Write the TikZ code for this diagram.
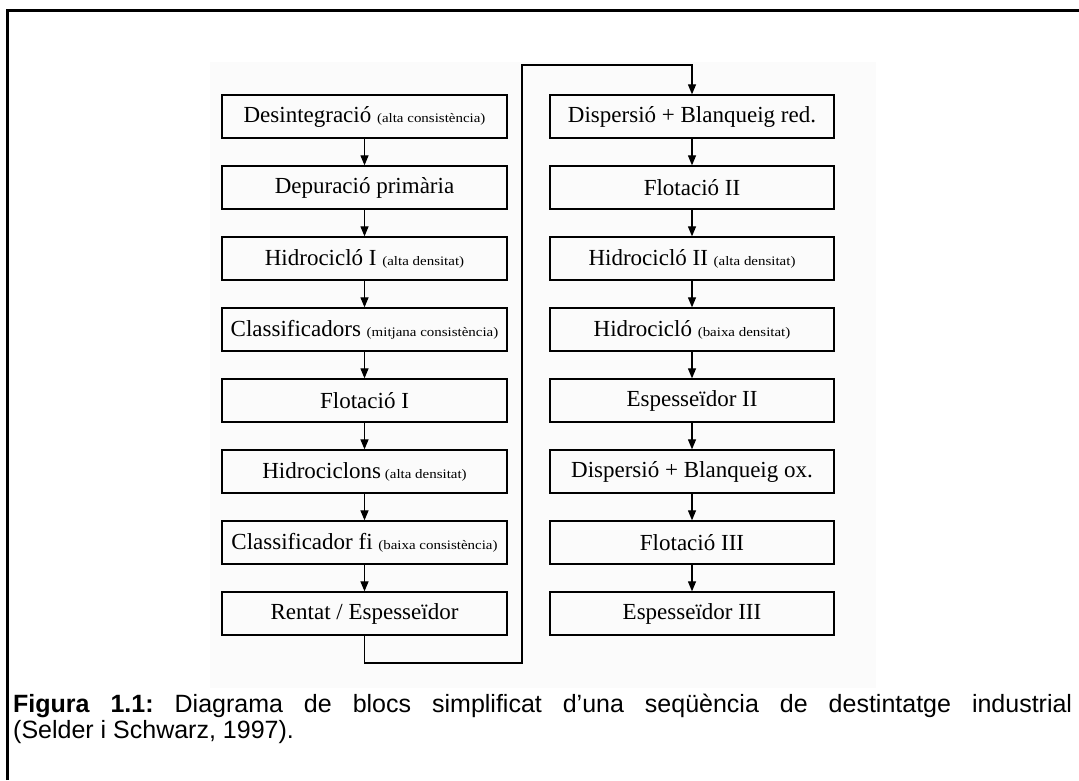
\documentclass[tikz,border=0pt]{standalone}
\usepackage{fontspec}
\setmainfont{Liberation Serif}
\setsansfont{Liberation Sans}
\usetikzlibrary{arrows.meta}
\newcommand{\bigtxt}{\fontsize{23}{26}\selectfont}
\newcommand{\smalltxt}[1]{\scalebox{1.15}[1]{\fontsize{13}{15}\selectfont #1}}
\frenchspacing
\begin{document}
\begin{tikzpicture}[x=1pt,y=-1pt,
  stagebox/.style={draw, line width=1.3pt, minimum width=285pt, minimum height=43pt,
    inner sep=0pt, font=\bigtxt},
  flow/.style={line width=1.2pt, -{Triangle[length=10pt,width=8pt]}},
  frameline/.style={line width=3pt}]
\useasboundingbox (0,0) rectangle (1079,780);
% scanned panel behind the flow chart
\fill[black!1.5] (210,62) rectangle (876,688);
% page frame
\draw[frameline] (7,780) -- (7,10) -- (1079,10);

% left column
\foreach \i/\t in {1/{Desintegració \smalltxt{(alta consistència)}},
                   2/{Depuració primària},
                   3/{Hidrocicló I \smalltxt{(alta densitat)}},
                   4/{Classificadors \smalltxt{(mitjana consistència)}},
                   5/{Flotació I},
                   6/{Hidrociclons\,\smalltxt{(alta densitat)}},
                   7/{Classificador fi \smalltxt{(baixa consistència)}},
                   8/{Rentat / Espesseïdor}}
  \node[stagebox] (L\i) at (364.5, 45.5+71*\i) {\t};

% right column
\foreach \i/\t in {1/{Dispersió + Blanqueig red.},
                   2/{Flotació II},
                   3/{Hidrocicló II \smalltxt{(alta densitat)}},
                   4/{Hidrocicló \smalltxt{(baixa densitat)}},
                   5/{Espesseïdor II},
                   6/{Dispersió + Blanqueig ox.},
                   7/{Flotació III},
                   8/{Espesseïdor III}}
  \node[stagebox, minimum width=284pt] (R\i) at (692, 45.5+71*\i) {\t};

% connectors inside each column
\foreach \i [evaluate=\i as \j using int(\i+1)] in {1,...,7} {
  \draw[flow] (L\i.south) -- (L\j.north);
  \draw[flow] (R\i.south) -- (R\j.north);
}

% transfer from the end of the left column to the top of the right one
\coordinate (loopB) at (522,663);
\coordinate (loopT) at (522,65);
\draw[flow] (L8.south) |- (loopB) -- (loopT) -| (R1.north);

% caption
\node[anchor=north west, inner sep=0pt, text width=1059pt, align=justify,
      font=\sffamily\fontsize{25}{26}\selectfont] (cap) at (13,694)
  {\textbf{Figura 1.1:} Diagrama de blocs simplificat d’una seqüència de destintatge industrial\linebreak
   (Selder i Schwarz, 1997).};
\end{tikzpicture}
\end{document}
